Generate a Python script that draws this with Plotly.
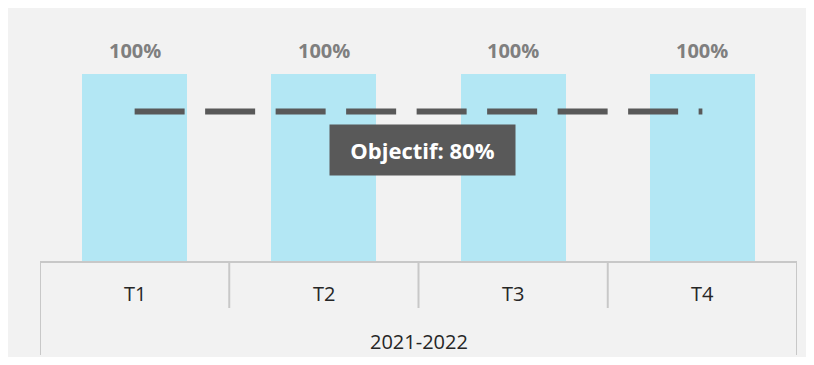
import plotly.graph_objects as go

# ---- data ----
categories = ["T1", "T2", "T3", "T4"]
values = [1.0, 1.0, 1.0, 1.0]
value_labels = ["100%", "100%", "100%", "100%"]
group_label = "2021-2022"
target_value = 0.8
target_label = "Objectif: 80%"

FONT = "Open Sans"
idx = list(range(len(categories)))

fig = go.Figure()

fig.add_trace(go.Bar(
    x=idx, y=values, width=0.555,
    marker=dict(color="#b3e7f4", line=dict(width=0)),
    hoverinfo="skip", showlegend=False,
))

fig.add_trace(go.Scatter(
    x=[idx[0], idx[-1]], y=[target_value, target_value],
    mode="lines",
    line=dict(color="#595959", width=6, dash="50px,20.5px"),
    hoverinfo="skip", showlegend=False,
))

annotations = []
for i, (v, lab) in enumerate(zip(values, value_labels)):
    annotations.append(dict(
        x=i, y=v, xref="x", yref="y", text=f"<b>{lab}</b>", showarrow=False,
        yanchor="middle", yshift=24,
        font=dict(family=FONT, size=20, color="#7f7f7f"),
    ))
for i, c in enumerate(categories):
    annotations.append(dict(
        x=i, y=0, xref="x", yref="y", text=c, showarrow=False,
        yanchor="middle", yshift=-31,
        font=dict(family=FONT, size=20, color="#262626"),
    ))
annotations.append(dict(
    x=(idx[0] + idx[-1]) / 2, y=0, xref="x", yref="y", text=group_label, showarrow=False,
    yanchor="middle", yshift=-79,
    font=dict(family=FONT, size=20, color="#262626"),
))
annotations.append(dict(
    x=1.521, y=target_value, xref="x", yref="y", text=f"<b>{target_label}</b>",
    showarrow=False, yanchor="middle", yshift=-38,
    bgcolor="#595959", width=181, height=46, borderpad=2,
    font=dict(family=FONT, size=22, color="#ffffff"),
))

axis_color = "#c8c8c8"
shapes = [
    # category axis baseline
    dict(type="line", xref="x", yref="paper", x0=idx[0] - 0.5, x1=idx[-1] + 0.5, y0=0, y1=0,
         line=dict(color=axis_color, width=2)),
]
n = len(categories)
for k in range(n + 1):
    outer = k == 0 or k == n
    shapes.append(dict(
        type="line", xref="x", yref="paper", ysizemode="pixel", yanchor=0,
        x0=idx[0] - 0.5 + k, x1=idx[0] - 0.5 + k,
        y0=0, y1=-93 if outer else -46,
        line=dict(color=axis_color, width=2),
    ))

fig.update_layout(
    width=798, height=349,
    margin=dict(l=32, r=9, t=66, b=95),
    paper_bgcolor="#f2f2f2", plot_bgcolor="rgba(0,0,0,0)",
    xaxis=dict(range=[idx[0] - 0.5, idx[-1] + 0.5], visible=False, fixedrange=True),
    yaxis=dict(range=[0, 1], visible=False, fixedrange=True),
    annotations=annotations, shapes=shapes,
    showlegend=False, bargap=0,
)

fig.write_html("out.html")
